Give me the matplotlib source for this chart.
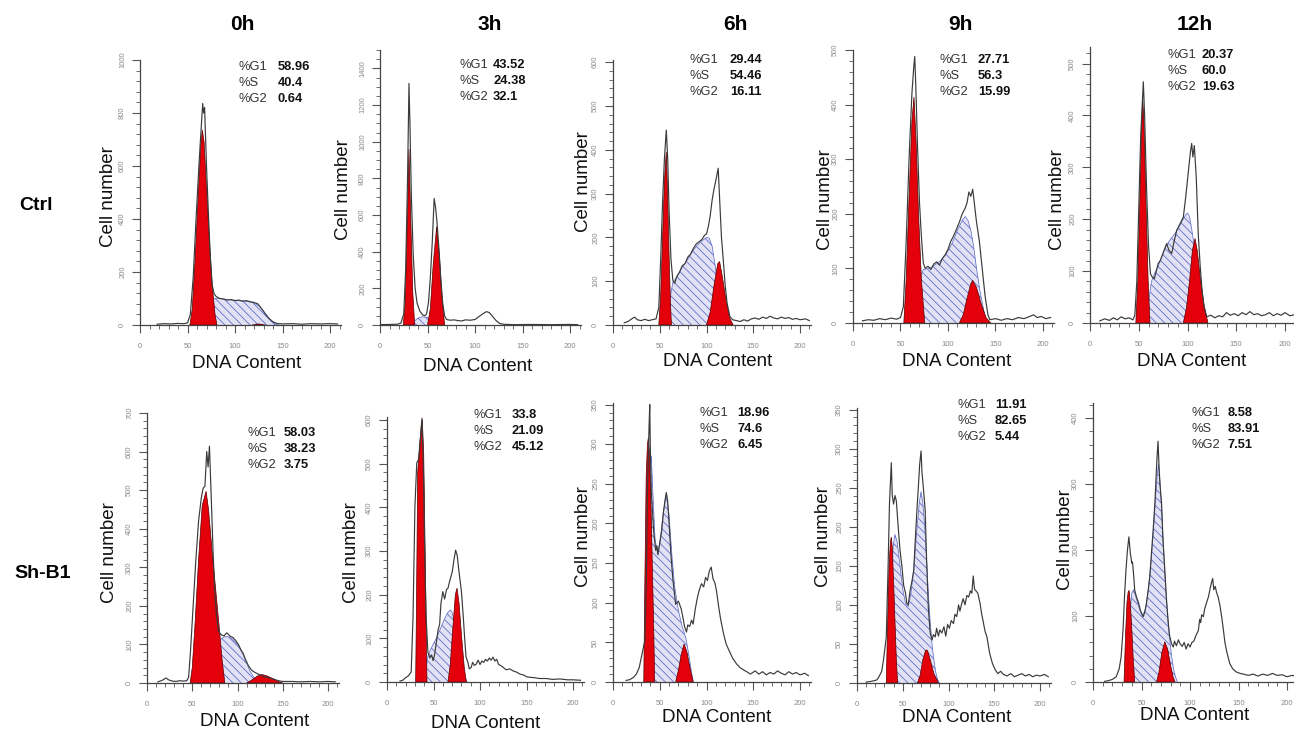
import matplotlib
matplotlib.use("Agg")
import matplotlib.pyplot as plt
from matplotlib.ticker import MultipleLocator

plt.rcParams["font.family"] = ["Liberation Sans", "DejaVu Sans"]
plt.rcParams["hatch.linewidth"] = 0.55

W, H = 1294, 731

# ---------------------------------------------------------------- data
TIMEPOINTS = ["0h", "3h", "6h", "9h", "12h"]
GROUPS = ["Ctrl", "Sh-B1"]

# phase percentages (G1, S, G2) per group and time point
CTRL_PCT = [("58.96", "40.4", "0.64"), ("43.52", "24.38", "32.1"),
            ("29.44", "54.46", "16.11"), ("27.71", "56.3", "15.99"),
            ("20.37", "60.0", "19.63")]
SHB1_PCT = [("58.03", "38.23", "3.75"), ("33.8", "21.09", "45.12"),
            ("18.96", "74.6", "6.45"), ("11.91", "82.65", "5.44"),
            ("8.58", "83.91", "7.51")]

# y-axis top value, major tick step and minor subdivisions for every histogram
CTRL_YMAX = [1000, 1500, 605, 500, 532]
CTRL_YSTEP = [200, 200, 100, 100, 100]
CTRL_YSUB = [5, 4, 5, 5, 5]
SHB1_YMAX = [700, 607, 352, 352, 423]
SHB1_YSTEP = [100, 100, 50, 50, 100]
SHB1_YSUB = [5, 5, 5, 5, 5]

# ---- Ctrl 0h
CTRL_0H_TRACE = [(18,3),(25,5),(32,4),(40,6),(46,5),(50,8),(53,40),(56,180),(59,400),(62,600),
                 (64,720),(66,836),(67,800),(68,820),(70,600),(72,420),(74,260),(76,150),(78,118),
                 (80,108),(84,100),(88,98),(92,94),(96,96),(100,92),(104,94),(108,90),(112,92),
                 (116,88),(120,85),(124,80),(128,62),(132,42),(136,24),(140,12),(144,6),(150,4),
                 (160,5),(170,3),(180,5),(190,4),(200,5),(208,4)]
CTRL_0H_G1 = [(52.5,0),(55,60),(58,250),(61,470),(64,680),(65.6,736),(67.5,690),(70,520),
              (73,320),(76,150),(79,40),(81,0)]
CTRL_0H_G2 = [(118,0),(125,4),(132,0)]
CTRL_0H_S = [(56,0),(62,25),(68,55),(74,90),(78,100),(84,100),(90,97),(100,93),(110,90),
             (120,84),(126,70),(132,42),(138,15),(143,3),(146,0)]

# ---- Ctrl 3h
CTRL_3H_TRACE = [(0,2),(10,3),(18,4),(22,10),(25,60),(27,300),(29,800),(30.5,1318),(31.5,1100),
                 (33,700),(35,380),(37,200),(39,120),(42,75),(45,55),(47,50),(49,60),(51,120),
                 (53,260),(55,450),(57,690),(58.5,640),(60,560),(62,420),(64,250),(66,120),
                 (68,50),(70,30),(74,26),(78,28),(82,24),(86,22),(90,28),(95,26),(100,30),
                 (104,45),(108,60),(112,73),(115,68),(118,50),(122,25),(126,8),(130,4),(140,2),
                 (160,3),(180,2),(200,3),(208,2)]
CTRL_3H_G1 = [(24.5,0),(26.5,120),(28.5,500),(30.5,960),(32.5,560),(34.5,180),(36.5,0)]
CTRL_3H_G2 = [(50,0),(53,90),(56,330),(59.6,536),(62.5,380),(65.5,140),(68,0)]
CTRL_3H_S = [(33,0),(36,20),(40,38),(45,45),(50,40),(55,30),(60,15),(64,0)]

# ---- Ctrl 6h
CTRL_6H_TRACE = [(12,5),(16,8),(20,14),(23,18),(26,12),(30,10),(34,13),(38,10),(42,12),(46,14),
                 (49,40),(51,150),(53,280),(55,380),(57,445),(58.5,380),(60,260),(62,150),
                 (64,102),(66,95),(68,110),(71,120),(74,135),(77,140),(80,155),(83,162),(86,175),
                 (89,185),(92,190),(95,195),(98,205),(100,208),(102,225),(104,250),(106,285),
                 (108,310),(110,330),(112.5,358),(114,290),(116,200),(118,147),(120,90),(122,50),
                 (125,19),(128,12),(132,10),(136,8),(140,12),(144,9),(148,14),(152,16),(156,13),
                 (160,18),(164,15),(168,20),(172,16),(176,14),(180,18),(184,15),(188,17),
                 (192,13),(196,15),(200,12),(206,14),(210,10)]
CTRL_6H_G1 = [(49,0),(51,70),(53,200),(55,330),(57,395),(58.5,300),(60,160),(61.5,50),(62.5,0)]
CTRL_6H_G2 = [(100,0),(104,30),(108,90),(112,140),(114,145),(117,110),(121,55),(125,15),(128.5,0)]
CTRL_6H_S = [(58,0),(61,60),(64,98),(68,108),(72,125),(76,138),(80,150),(85,168),(90,182),
             (95,192),(100,200),(103,198),(106,180),(109,140),(112,90),(115,45),(118,12),(120,0)]

# ---- Ctrl 9h
CTRL_9H_TRACE = [(10,4),(16,6),(22,5),(28,8),(34,6),(40,9),(46,7),(50,10),(53,30),(56,150),
                 (59,300),(62,420),(64,470),(65,488),(66,440),(68,320),(70,220),(72,158),(74,110),
                 (76,100),(79,104),(82,98),(85,108),(88,112),(91,106),(94,118),(97,125),(100,135),
                 (103,150),(106,160),(109,172),(112,185),(115,200),(118,210),(120,220),(122,240),
                 (124,232),(126,245),(128,215),(130,185),(133,150),(136,100),(139,50),(142,15),
                 (144,6),(150,8),(156,5),(162,8),(168,6),(174,10),(180,8),(186,12),(190,15),
                 (194,10),(198,12),(203,8),(208,10)]
CTRL_9H_G1 = [(53.5,0),(56,80),(59,230),(62,370),(64.2,414),(66.5,330),(69,200),(72,80),(75.5,0)]
CTRL_9H_G2 = [(112,0),(116,15),(120,45),(124,72),(126,78),(130,65),(135,35),(140,10),(145,0)]
CTRL_9H_S = [(62,0),(66,40),(70,80),(74,98),(80,100),(86,106),(92,114),(98,126),(104,145),
             (110,170),(115,188),(118,195),(121,188),(124,170),(127,140),(130,100),(134,55),
             (138,20),(141,0)]

# ---- Ctrl 12h
CTRL_12H_TRACE = [(10,4),(15,8),(20,5),(24,10),(28,6),(32,12),(36,8),(40,10),(44,6),(46,15),
                  (48,80),(50,220),(52,360),(54.7,465),(56,400),(58,260),(60,150),(62,95),(64,88),
                  (66,85),(68,100),(70,115),(72,120),(74,130),(76,140),(78.6,153),(81,140),
                  (83.8,134),(86,155),(89,179),(92,190),(95.7,204),(98,240),(101,294),(103,330),
                  (104.3,346),(105.5,320),(107,342),(109,280),(111,172),(113,110),(115,60),
                  (117,30),(119.7,12),(124,15),(128,10),(132,14),(136,12),(140,20),(144,15),
                  (148,18),(152,14),(156,20),(160,16),(164,22),(168,16),(172,18),(176,14),
                  (180,16),(184,20),(188,14),(192,18),(196,15),(200,20),(205,14),(210,16)]
CTRL_12H_G1 = [(47,0),(49,80),(51,230),(53,380),(54,436),(55.5,380),(57.5,230),(59.5,90),(61.5,0)]
CTRL_12H_G2 = [(95.7,0),(99,30),(102,80),(105,140),(107.7,163),(110,140),(113,90),(117,35),(121,0)]
CTRL_12H_S = [(57,0),(60,40),(63,80),(66,95),(70,110),(74,130),(78,148),(82,160),(86,170),
              (90,180),(94,195),(98,208),(100,212),(102,205),(104,185),(106,160),(108,120),
              (111,70),(114,30),(117,0)]

# ---- Sh-B1 0h
SHB1_0H_TRACE = [(12,3),(16,6),(19,10),(21,13),(24,8),(28,5),(32,4),(36,6),(40,5),(44,6),(46,15),
                 (48,80),(51,200),(54,320),(57,420),(60,480),(62,505),(64,510),(66,600),
                 (67.5,560),(69,614),(71,480),(73,340),(75,230),(77,170),(79,134),(82,125),
                 (85,122),(88,130),(90,126),(92,121),(95,118),(98,110),(101,100),(104,85),
                 (106,78),(109,60),(112,45),(115,35),(117.4,30),(122,24),(126,20),(130,16),
                 (135.8,13),(140,10),(145,6),(150,4),(160,4),(170,3),(180,4),(190,3),(200,4),(208,3)]
SHB1_0H_G1 = [(47.7,0),(50,40),(53,150),(57,320),(61,460),(65.3,497),(68,450),(72,340),(76,240),
              (80,140),(83,60),(86,0)]
SHB1_0H_G2 = [(110,0),(116,8),(122,18),(127,22),(133,18),(140,10),(145,4),(150,0)]
SHB1_0H_S = [(62,0),(66,20),(70,45),(74,75),(78,100),(82,115),(86,120),(90,120),(94,115),
             (98,105),(102,92),(106,75),(110,52),(114,30),(118,15),(122,6),(126,0)]

# ---- Sh-B1 3h
SHB1_3H_TRACE = [(14,2),(17,4),(20,10),(23,14),(26,23),(28,150),(30,400),(32,502),(34,510),
                 (36,560),(37.6,604),(39,500),(40.5,300),(42,150),(44,68),(46,55),(48,62),
                 (49.5,49),(51,60),(53,90),(55,120),(56.6,132),(58,180),(60,207),(62,190),
                 (64,212),(65.6,215),(67,228),(70.2,253),(72,280),(73.8,302),(75.5,290),(77,260),
                 (80,208),(82,150),(83.5,100),(85,57),(87,45),(88.5,30),(90.7,34),(92,45),(94,38),
                 (96,41),(98,50),(100,40),(102,48),(104,45),(106,52),(108,48),(110,55),(112,50),
                 (114,57),(116,48),(118,52),(120,40),(122,38),(124.7,34),(128,28),(132,30),
                 (136,25),(139,23),(143,18),(147,16),(150,12),(153,11),(158,10),(164,8),(171,8),
                 (178,6),(186,7),(194,5),(200,5),(208,4)]
SHB1_3H_G1 = [(30.8,0),(31.8,200),(33,480),(35,540),(37,590),(38,600),(39.5,520),(41,300),
              (42.2,120),(43,0)]
SHB1_3H_G2 = [(65.6,0),(68,40),(71,130),(73.5,200),(75.3,215),(77.5,180),(80,110),(83,35),(85.3,0)]
SHB1_3H_S = [(40,0),(42,30),(44,60),(47,75),(50,88),(53,100),(56,115),(59,130),(62,145),(65,158),
             (68,165),(70,160),(72,140),(75,110),(78,75),(81,40),(84,12),(86,0)]

# ---- Sh-B1 6h
SHB1_6H_TRACE = [(14,2),(18,3),(22,6),(25,10),(28,18),(31,35),(34,52),(35.5,120),(37,250),
                 (38.5,320),(39.3,350),(40,290),(41,240),(42,220),(43.5,190),(45.7,166),(47,172),
                 (48,161),(50,175),(52,190),(54,215),(56,232),(57,239),(58.5,228),(60,200),
                 (62,160),(64,130),(67,98),(70,102),(73,92),(75,80),(76.5,70),(78.6,63),(80,72),
                 (82,70),(84,78),(85.7,73),(88,92),(90,105),(92,115),(94.6,124),(97,120),(99,132),
                 (101,128),(103,140),(105,145),(107,130),(109,125),(110.7,115),(113,95),(115,80),
                 (118,62),(121,48),(124,40),(128,30),(132,23),(136,18),(140,15),(143,13),(147,10),
                 (152,14),(156,10),(160,13),(164,9),(168,12),(172,10),(176,14),(180,11),(184,9),
                 (188,13),(192,10),(196,12),(200,9),(205,11),(209,8)]
SHB1_6H_G1 = [(32.9,0),(34,120),(35.5,260),(36.8,300),(37.8,308),(39,290),(40.5,230),(42,150),
              (43.5,70),(44.6,0)]
SHB1_6H_G2 = [(67,0),(70,15),(73,35),(76,48),(79,38),(82,20),(85.7,0)]
SHB1_6H_S = [(39,0),(40,270),(41,285),(43,230),(45,180),(48,160),(51,185),(54,215),(57,237),
             (60,210),(63,160),(66,120),(70,90),(74,70),(78,55),(81,35),(84,12),(86,0)]

# ---- Sh-B1 9h
SHB1_9H_TRACE = [(10,1),(15,2),(19,3),(21.8,4),(24,8),(27,15),(29,30),(32,59),(34,150),
                 (35.5,230),(37.5,282),(38.5,240),(40,229),(41.5,240),(43,233),(45,200),(47,170),
                 (49,150),(51,125),(53,115),(54.5,102),(56,100),(58,118),(60,130),(62,144),
                 (64,190),(65.5,221),(67,250),(68.5,280),(70,297),(71,270),(72.5,250),(74.5,221),
                 (76,160),(78,95),(80,64),(82,55),(83.5,62),(85.5,59),(87,70),(89,60),(90.5,68),
                 (92.7,64),(95,72),(97,60),(99,75),(101,70),(103,80),(105.5,76),(107,88),(109,85),
                 (111,100),(112.5,92),(114.5,102),(116,108),(118,100),(120,112),(122,110),
                 (124,118),(125.5,115),(127,137),(128.5,120),(130,118),(132,115),(134.5,102),
                 (136,90),(138,78),(140,66),(142,59),(145,38),(148,25),(151,17),(154,12),
                 (157,15),(160,11),(164,9),(168,12),(172,8),(176,10),(180,12),(184,9),(188,11),
                 (192,8),(196,10),(200,9),(205,11),(209,8)]
SHB1_9H_G1 = [(32,0),(33.5,80),(35,150),(36.5,180),(37.5,187),(38.5,175),(40,130),(41.5,80),
              (43,30),(44.4,0)]
SHB1_9H_G2 = [(66,0),(69,10),(72,30),(75,42),(77,42),(80,30),(84,12),(89,0)]
SHB1_9H_S = [(37,0),(38,120),(39.5,175),(41.5,190),(44,180),(47,150),(50,120),(53,102),(56,98),
             (59,115),(62,145),(65,190),(68,230),(70,245),(72,230),(74,200),(76,160),(78,115),
             (80,78),(82,50),(84,30),(86,14),(88,5),(90,0)]

# ---- Sh-B1 12h
SHB1_12H_TRACE = [(12,1),(16,2),(20,4),(24,8),(27,20),(29,38),(31,80),(32.5,130),(34,170),
                  (35.5,200),(37,220),(38.5,195),(40,180),(40.7,182),(42,160),(43,139),(45,128),
                  (47,120),(49,108),(51.7,99),(53,104),(55,118),(57,140),(58.6,160),(60,190),
                  (62,230),(63.8,271),(65,310),(66,340),(67,365),(68,330),(69,300),(70.7,271),
                  (72,220),(74,170),(76,120),(77.6,89),(79,70),(81,58),(82.8,53),(84,62),(86,55),
                  (88,64),(89.7,58),(92,54),(94,60),(96,50),(98,58),(100,53),(102,60),(104,62),
                  (106,70),(108.6,78),(110,95),(111,90),(112,102),(113.8,99),(115,110),(117,120),
                  (119,129),(120.5,140),(122,150),(123.4,157),(124.5,140),(126,145),(127.5,135),
                  (129,129),(131,115),(133,95),(134.5,78),(136,60),(138,45),(141,28),(144,20),
                  (148,15),(151.7,13),(155,12),(160,10),(165,12),(170,9),(175,12),(180,10),
                  (185,13),(190,10),(195,11),(200,8),(205,10),(209,9)]
SHB1_12H_G1 = [(32,0),(33.5,70),(35,120),(36.2,136),(37.2,139),(38.5,120),(40,80),(41.5,35),(43,0)]
SHB1_12H_G2 = [(65.5,0),(68,15),(71,45),(74,61),(77,50),(80,25),(82.5,8),(84.5,0)]
SHB1_12H_S = [(37,0),(38.5,110),(40,135),(42,140),(45,125),(48,110),(51,100),(54,110),(57,140),
              (60,185),(63,245),(66,310),(67.5,330),(69,305),(71,255),(73,195),(75,140),(77,100),
              (79,65),(81,40),(83,20),(85,8),(87,0)]

CTRL_TRACES = [CTRL_0H_TRACE, CTRL_3H_TRACE, CTRL_6H_TRACE, CTRL_9H_TRACE, CTRL_12H_TRACE]
CTRL_G1 = [CTRL_0H_G1, CTRL_3H_G1, CTRL_6H_G1, CTRL_9H_G1, CTRL_12H_G1]
CTRL_G2 = [CTRL_0H_G2, CTRL_3H_G2, CTRL_6H_G2, CTRL_9H_G2, CTRL_12H_G2]
CTRL_S = [CTRL_0H_S, CTRL_3H_S, CTRL_6H_S, CTRL_9H_S, CTRL_12H_S]
SHB1_TRACES = [SHB1_0H_TRACE, SHB1_3H_TRACE, SHB1_6H_TRACE, SHB1_9H_TRACE, SHB1_12H_TRACE]
SHB1_G1 = [SHB1_0H_G1, SHB1_3H_G1, SHB1_6H_G1, SHB1_9H_G1, SHB1_12H_G1]
SHB1_G2 = [SHB1_0H_G2, SHB1_3H_G2, SHB1_6H_G2, SHB1_9H_G2, SHB1_12H_G2]
SHB1_S = [SHB1_0H_S, SHB1_3H_S, SHB1_6H_S, SHB1_9H_S, SHB1_12H_S]

# ---------------------------------------------------------------- layout (pixels)
# (x of DNA=0, x of DNA=200, y of count=0, y of axis top)
CTRL_BOX = [(140, 330, 325, 60), (380, 570, 325, 50), (613, 800, 325, 60),
            (853, 1043, 323, 50), (1090, 1285, 323, 47)]
SHB1_BOX = [(147, 328, 683, 413), (387, 573, 682, 417), (613, 800, 682, 403),
            (857, 1040, 683, 408), (1093, 1287, 682, 403)]
CTRL_STATS_XY = [(238, 278, 67), (459, 493, 65), (690, 730, 60), (940, 978, 60), (1167, 1202, 55)]
SHB1_STATS_XY = [(248, 284, 433), (474, 512, 415), (699, 737, 413), (957, 995, 405), (1192, 1228, 413)]
CTRL_YLAB_XY = [(108, 197), (343, 190), (583, 182), (825, 200), (1058, 200)]
SHB1_YLAB_XY = [(110, 553), (352, 553), (583, 537), (823, 537), (1065, 540)]
CTRL_XLAB_XY = [(247, 363), (478, 367), (718, 362), (957, 362), (1192, 362)]
SHB1_XLAB_XY = [(255, 722), (486, 723), (717, 717), (957, 717), (1195, 715)]
TITLE_X = [242, 490, 735, 960, 1195]

RED = "#e3000b"
HATCH_FACE = "#e2e2f4"
HATCH_LINE = "#5866c4"
TRACE = "#3a3a3a"
XMAX = 212


def fx(x):
    return x / W


def fy(y):
    return 1 - y / H


def unzip(pts):
    return [p[0] for p in pts], [p[1] for p in pts]


def draw_panel(fig, box, ymax, ystep, ysub, trace, g1, g2, s):
    x0, x200, y0, ytop = box
    ppu = (x200 - x0) / 200.0
    ax = fig.add_axes([fx(x0), fy(y0), XMAX * ppu / W, (y0 - ytop) / H])
    ax.set_xlim(0, XMAX)
    ax.set_ylim(0, ymax)

    # S-phase component (hatched), then G1/G2 peaks, then the measured histogram
    sx, sy = unzip(s)
    ax.fill_between(sx, sy, 0, facecolor=HATCH_FACE, edgecolor=HATCH_LINE,
                    hatch="\\\\\\\\", linewidth=0, zorder=1)
    ax.plot(sx, sy, color=HATCH_LINE, lw=0.5, zorder=1.5)
    for peak in (g1, g2):
        px_, py_ = unzip(peak)
        ax.fill(px_, py_, facecolor=RED, edgecolor="#5a0000", linewidth=0.5, zorder=2)
    tx, ty = unzip(trace)
    ax.plot(tx, ty, color=TRACE, lw=0.85, zorder=3)

    for side in ("top", "right"):
        ax.spines[side].set_visible(False)
    for side in ("left", "bottom"):
        ax.spines[side].set_color("#444444")
        ax.spines[side].set_linewidth(0.9)
    ax.set_xticks([0, 50, 100, 150, 200])
    ax.xaxis.set_minor_locator(MultipleLocator(10))
    ax.set_yticks(list(range(0, int(ymax) + 1, ystep)))
    ax.yaxis.set_minor_locator(MultipleLocator(ystep / ysub))
    ax.tick_params(which="major", direction="out", length=6, width=0.8, color="#555555",
                   labelsize=5.5, labelcolor="#8a8a8a")
    ax.tick_params(which="minor", direction="out", length=3, width=0.6, color="#555555")
    ax.tick_params(axis="x", which="major", pad=7)
    ax.tick_params(axis="y", which="major", pad=4)
    for lab in ax.get_yticklabels():
        lab.set_rotation(90)
        lab.set_va("center")
    ax.patch.set_alpha(0)
    return ax


fig = plt.figure(figsize=(W / 100, H / 100), dpi=100)
fig.patch.set_facecolor("white")

rows = [
    (CTRL_BOX, CTRL_YMAX, CTRL_YSTEP, CTRL_YSUB, CTRL_TRACES, CTRL_G1, CTRL_G2, CTRL_S,
     CTRL_PCT, CTRL_STATS_XY, CTRL_YLAB_XY, CTRL_XLAB_XY),
    (SHB1_BOX, SHB1_YMAX, SHB1_YSTEP, SHB1_YSUB, SHB1_TRACES, SHB1_G1, SHB1_G2, SHB1_S,
     SHB1_PCT, SHB1_STATS_XY, SHB1_YLAB_XY, SHB1_XLAB_XY),
]

for (boxes, ymaxs, ysteps, ysubs, traces, g1s, g2s, ss, pcts, stats_xy, ylab_xy, xlab_xy) in rows:
    for i in range(len(TIMEPOINTS)):
        draw_panel(fig, boxes[i], ymaxs[i], ysteps[i], ysubs[i], traces[i], g1s[i], g2s[i], ss[i])
        lx, vx, ly = stats_xy[i]
        for k, (name, val) in enumerate(zip(["%G1", "%S", "%G2"], pcts[i])):
            yy = ly + k * 16
            fig.text(fx(lx), fy(yy), name, fontsize=9.3, color="#333333", va="center", ha="left")
            fig.text(fx(vx), fy(yy), val, fontsize=9.3, color="#111111", fontweight="bold",
                     va="center", ha="left")
        cx, cy = ylab_xy[i]
        fig.text(fx(cx), fy(cy), "Cell number", fontsize=13.5, rotation=90,
                 ha="center", va="center", color="#111111")
        cx, cy = xlab_xy[i]
        fig.text(fx(cx), fy(cy), "DNA Content", fontsize=13.5, ha="center", va="center",
                 color="#111111")

for t, x in zip(TIMEPOINTS, TITLE_X):
    fig.text(fx(x), fy(25), t, fontsize=15, fontweight="bold", ha="center", va="center")

fig.text(fx(36), fy(205), GROUPS[0], fontsize=14, fontweight="bold", ha="center", va="center")
fig.text(fx(43), fy(573), GROUPS[1], fontsize=14, fontweight="bold", ha="center", va="center")

fig.savefig("out.png", dpi=100, facecolor="white")
